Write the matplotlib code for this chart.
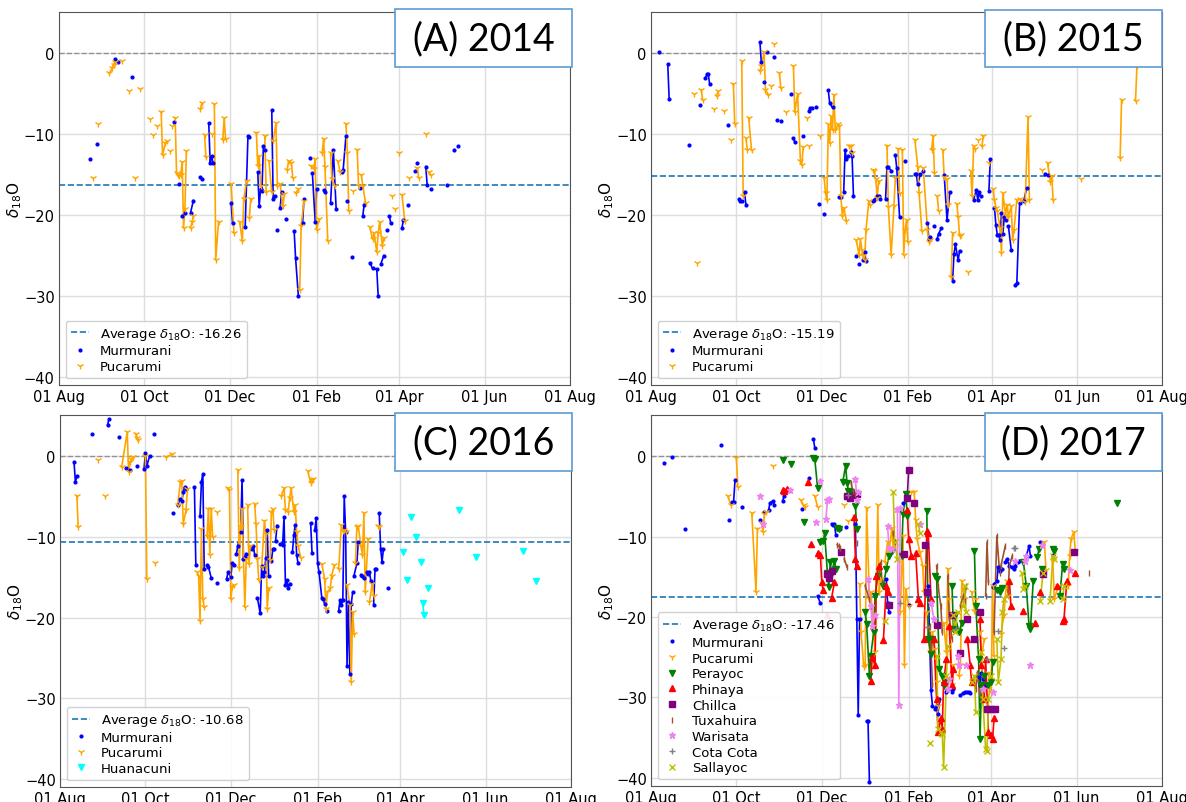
import matplotlib
matplotlib.use("Agg")
import matplotlib.pyplot as plt
import matplotlib.dates as mdates
from matplotlib.patches import Rectangle
from datetime import datetime, timedelta

# each series: list of segments, each segment = [(day since 01 Aug, d18O), ...]
A_MUR = [[(22, -13.1)], [(27, -11.2)], [(40, -0.7), (42, -1.1)], [(52, -2.9)], [(82, -8.5)], [(86, -16.1)],
         [(88, -20.1), (90, -19.7)], [(94, -19.7), (96, -18.2)], [(101, -15.3), (102, -15.6)],
         [(107, -8.6), (108, -13.6), (109, -12.7), (110, -13.5)], [(123, -18.5), (124, -21.0)],
         [(133, -21.5), (135, -10.2), (136, -10.4)],
         [(142, -14.7), (143, -18.9), (144, -16.8), (145, -17.0), (146, -11.5), (147, -12.0)],
         [(152, -7.0), (153, -18.0), (154, -17.6)], [(156, -21.8)], [(158, -19.1), (159, -17.2)], [(162, -20.5)],
         [(168, -22.0), (169, -25.3), (171, -30.0)], [(174, -21.0), (175, -18.0)], [(179, -12.9)],
         [(181, -14.8), (183, -20.8), (184, -16.8)], [(189, -16.9), (190, -17.2)],
         [(194, -18.5), (196, -12.0), (198, -19.3)], [(202, -14.7), (203, -14.4), (205, -10.2)], [(206, -18.3)],
         [(209, -25.2)], [(215, -16.6)], [(217, -20.1), (218, -18.7)],
         [(222, -25.9), (224, -26.6), (227, -26.7), (228, -30.0)], [(230, -26.0), (232, -25.0)], [(234, -21.9)],
         [(236, -20.1), (237, -21.0)], [(245, -21.6), (246, -20.6)], [(249, -18.7)], [(254, -14.5)],
         [(256, -13.6)], [(262, -14.0), (263, -16.3)], [(266, -16.8)], [(277, -16.3)], [(282, -12.0)],
         [(285, -11.5)]]
A_PUC = [[(24, -15.4)], [(28, -8.8)], [(36, -2.5), (38, -1.8), (39, -1.4), (40, -1.1)], [(45, -1.0)], [(50, -4.7)],
         [(54, -15.4)], [(58, -4.4)], [(65, -8.1)], [(67, -10.1)], [(70, -9.0)],
         [(73, -7.2), (74, -12.6), (76, -11.1), (77, -10.9)], [(79, -12.1)], [(81, -9.0)],
         [(83, -8.0), (84, -14.8), (85, -15.1), (86, -15.2), (87, -15.0), (88, -13.4), (89, -21.6), (90, -19.2), (91, -12.1)],
         [(94, -21.6), (95, -20.9), (96, -20.1)], [(101, -6.9), (102, -6.2)], [(104, -10.1), (105, -12.8)],
         [(109, -10.0)], [(111, -6.3), (112, -25.5), (114, -20.8)], [(117, -10.7), (118, -8.0), (119, -10.6)],
         [(123, -16.2), (125, -22.2)], [(129, -20.8), (131, -23.2), (132, -18.0), (134, -15.8)],
         [(136, -20.3), (137, -18.0)], [(141, -9.8), (142, -13.9), (143, -12.7), (144, -16.4)],
         [(147, -10.2), (148, -17.2)], [(150, -13.3), (152, -17.2)], [(153, -10.8), (155, -8.6), (156, -16.4)],
         [(158, -16.2), (160, -18.9), (161, -17.4)], [(163, -14.4), (164, -13.3), (166, -13.5), (167, -15.4)],
         [(169, -17.3), (171, -16.8)], [(172, -29.2), (173, -21.3), (175, -18.3)],
         [(180, -13.9), (182, -14.3), (183, -13.1), (184, -21.8), (186, -20.5)],
         [(188, -12.3), (189, -10.6), (190, -14.1), (192, -23.2)], [(194, -12.3), (195, -15.6), (197, -16.4)],
         [(199, -13.3), (201, -14.7)], [(205, -8.7), (206, -12.3), (207, -19.5)], [(210, -17.0)],
         [(213, -11.9), (214, -16.4)], [(216, -15.0), (217, -16.4), (219, -18.5)],
         [(222, -21.5), (224, -23.0), (225, -22.2), (227, -24.6), (228, -22.2), (229, -20.9), (231, -23.8), (232, -22.8)],
         [(238, -17.6)], [(240, -19.2)], [(243, -12.3)], [(245, -17.5), (247, -20.7)], [(250, -15.4)],
         [(256, -14.2), (257, -15.4)], [(262, -10.0)], [(264, -14.7), (266, -15.1)]]

B_MUR = [[(6, 0.2)], [(12, -1.3), (13, -5.6)], [(27, -11.3)], [(35, -6.4)],
         [(39, -3.1), (40, -2.6), (41, -2.6), (42, -3.8)], [(55, -8.9)], [(63, -18.0), (64, -18.2), (65, -18.3)],
         [(67, -17.1), (68, -18.8)], [(78, 1.4), (79, -1.1)], [(81, -3.6)], [(83, 0.2)], [(88, -0.4)], [(90, -8.3)],
         [(93, -8.4)], [(100, -5.0)], [(102, -10.5), (103, -11.0)], [(109, -10.2)],
         [(113, -7.1), (114, -6.8), (115, -6.8)], [(118, -6.6)], [(120, -18.6)], [(124, -19.9)],
         [(127, -4.6), (128, -6.2), (130, -6.7)], [(135, -17.8)], [(136, -17.8)],
         [(138, -17.2), (139, -12.0), (140, -13.1), (141, -12.7)], [(143, -12.2), (144, -12.7), (145, -17.6)],
         [(147, -25.1)], [(149, -26.1)], [(152, -25.5), (153, -24.6), (154, -25.7)],
         [(159, -18.3), (160, -18.1), (162, -17.6), (163, -17.6), (164, -18.0)],
         [(168, -18.0), (169, -14.0), (170, -14.1), (172, -14.5)], [(175, -12.6), (176, -14.2), (178, -20.2)],
         [(182, -13.3)], [(189, -14.9), (190, -14.9), (191, -16.2), (193, -14.9)], [(195, -14.5)],
         [(198, -21.0), (199, -22.9), (200, -22.7)], [(203, -21.3)], [(205, -22.9), (206, -22.3), (208, -21.6)],
         [(210, -15.1), (212, -20.6), (214, -17.2)],
         [(216, -28.1), (217, -24.8), (218, -23.6), (220, -25.6), (221, -24.4)],
         [(231, -18.1), (233, -16.9), (234, -18.1), (235, -17.1), (236, -17.7)], [(242, -17.0), (243, -13.1)],
         [(246, -19.1), (247, -21.2), (248, -22.4), (249, -22.4), (250, -23.1), (251, -19.8), (252, -22.3), (253, -20.2), (254, -20.6)],
         [(256, -21.4), (258, -24.3)], [(261, -28.6), (262, -28.4), (264, -18.5)], [(267, -18.2), (269, -16.7)],
         [(282, -14.9), (284, -15.1)]]
B_PUC = [[(31, -5.0)], [(33, -25.9)], [(36, -4.5), (37, -5.8)], [(45, -6.9)], [(47, -5.3), (48, -4.7)], [(52, -7.1)],
         [(57, -10.7)], [(59, -3.8), (60, -8.8)], [(65, -1.0), (66, -17.7)], [(68, -10.5), (69, -11.9)],
         [(70, -8.0), (72, -12.0)], [(78, -2.2), (79, -1.6), (81, 0.1), (82, -4.5), (84, -5.1)], [(86, -4.1)],
         [(88, 1.2)], [(92, -2.5), (93, -4.3)], [(97, -7.2)],
         [(102, -1.6), (103, -7.3), (105, -5.0), (107, -13.3), (108, -13.8), (109, -11.6)], [(112, -8.0)],
         [(113, -11.4)], [(121, -10.2)],
         [(124, -15.4), (125, -17.3), (126, -18.1), (127, -8.8), (128, -11.1), (129, -7.8), (130, -9.5), (131, -5.1),
          (132, -9.5), (134, -8.8), (135, -9.0), (136, -17.7), (137, -20.1), (138, -19.1), (140, -20.7)],
         [(142, -11.5), (143, -11.4), (144, -12.3)],
         [(147, -23.1), (149, -24.9), (150, -23.0), (151, -24.3), (152, -25.0), (153, -25.5), (154, -21.8), (156, -18.3), (157, -18.7)],
         [(159, -14.4), (160, -14.6), (161, -15.6), (162, -17.9), (163, -15.8)],
         [(169, -11.4), (170, -19.0), (172, -24.9), (174, -18.9), (175, -15.4)], [(177, -11.8), (178, -17.3)],
         [(180, -11.9), (181, -24.9), (182, -21.8), (183, -20.6), (184, -23.3)],
         [(189, -10.7), (191, -14.0), (192, -17.3), (194, -22.0)],
         [(195, -14.2), (198, -21.8), (199, -23.3), (200, -23.1)], [(201, -11.9), (202, -10.2), (203, -14.8)],
         [(205, -17.7), (206, -19.5)], [(209, -12.0), (210, -15.3), (212, -15.6), (213, -18.7)],
         [(215, -27.6), (216, -22.2)], [(219, -18.6), (220, -20.2), (221, -22.6), (222, -22.4)], [(227, -27.0)],
         [(229, -14.6), (230, -17.7), (231, -11.5), (232, -11.8)], [(234, -10.7)], [(237, -11.5), (238, -10.2)],
         [(242, -13.6)],
         [(245, -16.8), (246, -18.1), (247, -19.1), (248, -19.5), (250, -21.6), (251, -24.7), (252, -17.3), (254, -20.0),
          (255, -18.7), (256, -20.2), (258, -18.9), (259, -23.1), (260, -21.8), (262, -18.1)],
         [(264, -18.0), (268, -18.4), (270, -7.9), (271, -18.1)], [(280, -14.4)],
         [(284, -13.6), (286, -15.9), (287, -15.2), (288, -18.1)], [(308, -15.6)], [(336, -12.9), (337, -5.8)],
         [(347, -5.9), (348, -1.6)]]

C_MUR = [[(10, -0.7), (11, -3.2), (12, -2.5)], [(23, 2.7)], [(34, 3.9), (35, 4.6)], [(42, 2.4)],
         [(47, -1.5), (50, -1.7)], [(55, -1.2)], [(60, -1.6), (61, 0.4), (62, -1.2), (64, 0.0)], [(67, 2.8)],
         [(81, -7.1)], [(84, -6.0), (86, -5.3), (87, -5.6), (88, -4.5), (89, -3.8), (90, -4.1)],
         [(96, -3.8), (97, -13.5)], [(100, -7.4), (101, -3.2), (102, -2.2), (103, -14.0)],
         [(105, -13.5), (106, -13.7), (108, -15.1)], [(112, -15.7)],
         [(119, -15.2), (120, -14.4), (122, -15.0), (123, -13.2), (124, -13.5)],
         [(126, -12.1), (127, -11.1), (129, -9.4), (130, -3.0), (131, -12.7), (132, -12.5), (133, -12.1)],
         [(137, -11.5), (138, -11.1), (139, -12.2)],
         [(141, -17.6), (143, -19.5), (144, -13.6), (145, -14.9), (146, -14.4), (147, -12.6), (148, -9.2), (149, -14.9)],
         [(151, -13.0), (152, -11.5), (153, -11.5)], [(154, -10.5), (155, -8.6)],
         [(157, -10.9), (159, -11.0), (160, -7.6), (161, -16.0), (162, -15.4), (163, -16.3), (164, -15.8)],
         [(166, -11.9), (167, -9.8), (168, -8.5), (169, -12.2), (170, -13.3)], [(179, -8.3), (180, -12.0)],
         [(182, -9.1), (183, -7.7), (184, -13.3), (185, -14.4), (187, -17.6), (188, -17.7), (189, -18.3)],
         [(191, -19.2)],
         [(199, -19.2), (200, -17.8), (201, -18.5), (202, -17.8), (203, -5.0), (204, -9.4), (205, -26.0), (206, -18.1),
          (207, -27.0), (208, -18.3), (209, -16.9)],
         [(210, -14.8), (212, -13.3), (213, -10.7)],
         [(215, -14.7), (216, -14.8), (217, -15.1), (219, -14.3), (220, -14.6), (221, -14.3), (222, -15.5)],
         [(224, -18.4), (225, -14.0), (226, -14.0)], [(228, -7.1), (229, -11.5), (230, -13.1), (231, -11.5)],
         [(234, -16.4)]]
C_PUC = [[(12, -4.9), (13, -8.8)], [(27, -0.5)], [(32, -5.0)],
         [(44, -1.4), (48, 3.0), (49, -2.0), (50, -0.7), (51, -0.4), (52, -0.1)], [(54, 2.8), (55, 2.3), (56, 2.0)],
         [(61, 0.0), (62, -15.2)], [(68, -13.3)], [(76, -0.1), (80, 0.2)],
         [(84, -6.1), (86, -3.2), (87, -3.1), (88, -8.4), (90, -6.7), (91, -4.1)],
         [(98, -14.4), (99, -14.8), (100, -20.4), (101, -9.0), (102, -17.7), (103, -18.7)],
         [(105, -9.9), (106, -6.5), (107, -12.2), (108, -6.5), (109, -10.0)], [(112, -6.9)],
         [(120, -4.0), (121, -4.2), (122, -17.7), (123, -16.2), (124, -16.0)],
         [(127, -1.7), (128, -13.9), (129, -8.8), (130, -6.5), (132, -18.7), (133, -12.7)],
         [(134, -6.1), (135, -13.4), (136, -11.1)], [(139, -5.9), (140, -8.4), (141, -12.7), (142, -15.4)],
         [(144, -13.8), (146, -8.0), (147, -9.6), (148, -18.9), (149, -16.4)],
         [(150, -12.9), (151, -6.9), (152, -6.6), (153, -9.2)],
         [(158, -4.9), (160, -4.0), (161, -6.7), (163, -6.9), (164, -5.2), (165, -4.0), (167, -6.9), (168, -6.1),
          (169, -9.4), (170, -11.1), (172, -12.6)],
         [(177, -1.9), (179, -3.3), (180, -2.9), (181, -2.8)],
         [(187, -13.4), (189, -15.2), (190, -18.9), (191, -16.8), (193, -16.4), (194, -14.8), (196, -13.5)],
         [(199, -14.0), (201, -8.5), (202, -9.3), (203, -9.2), (204, -9.4)],
         [(205, -16.0), (207, -18.5), (208, -28.0), (209, -19.3), (210, -22.0)],
         [(211, -13.2), (212, -8.8), (213, -8.7), (215, -11.2), (216, -12.3), (217, -7.1), (218, -16.9), (220, -10.3)],
         [(221, -18.1), (223, -15.8), (224, -17.3)], [(227, -8.6), (228, -8.8)]]
C_HUA = [[(245, -11.9)], [(248, -15.4)], [(251, -7.6)], [(254, -10.0)], [(258, -13.1)],
         [(259, -18.2), (260, -19.7)], [(263, -16.3)], [(285, -6.7)], [(297, -12.5)], [(331, -11.8)], [(340, -15.5)]]

D_MUR = [[(9, -0.8)], [(15, -0.1)], [(24, -9.0)], [(50, 1.4)], [(56, -7.9)], [(58, -5.7), (59, -5.7), (60, -3.0)],
         [(65, -6.3)], [(78, -7.9)], [(81, -6.9)], [(84, -6.7), (85, -5.8), (87, -5.6), (88, -6.1)],
         [(94, -5.6), (95, -5.0)], [(108, -6.6)], [(113, -2.7)], [(116, 2.1), (117, 1.0)],
         [(119, -17.4), (121, -18.3)], [(129, -8.4), (130, -8.6), (131, -8.4), (132, -9.8)], [(135, -9.0)],
         [(139, -8.8)], [(146, -8.5), (147, -20.2), (148, -32.2), (149, -20.2)],
         [(154, -32.9), (155, -32.9), (156, -40.5)], [(168, -15.3), (169, -18.2), (170, -19.4)], [(180, -5.8)],
         [(184, -18.5)],
         [(198, -16.2), (200, -29.1), (201, -31.0), (203, -31.4), (204, -31.0), (205, -32.0), (206, -30.2)],
         [(209, -28.5), (211, -29.3), (213, -28.9), (215, -29.3), (216, -28.9)],
         [(221, -29.7), (223, -29.5), (224, -29.3), (226, -29.3), (227, -29.3), (228, -29.5)],
         [(234, -27.5), (235, -28.5), (236, -26.9), (237, -27.7), (239, -28.5)],
         [(244, -16.3), (245, -15.9), (247, -15.5), (248, -13.8), (249, -14.3), (251, -14.0)],
         [(253, -13.2), (254, -12.8), (256, -13.6), (258, -13.8)],
         [(259, -14.0), (260, -13.6), (262, -13.2), (263, -13.0)], [(268, -12.4), (270, -11.2), (271, -12.4)],
         [(278, -10.7)], [(287, -12.3)]]
D_PUC = [[(55, -5.0), (57, -6.1)], [(61, -0.2), (62, -3.8)], [(72, -7.1), (75, -16.9), (76, -9.0)],
         [(79, -8.3), (80, -9.4), (81, -7.2), (82, -7.0)], [(87, -1.2)], [(107, -5.5), (109, -6.1), (110, -6.3)],
         [(117, -5.0), (119, -6.3)], [(138, -6.1)], [(141, -8.1)],
         [(149, -15.9), (150, -21.9), (152, -26.2), (153, -26.0), (154, -6.4), (156, -17.8), (157, -16.9),
          (159, -21.9), (160, -24.4), (162, -6.1), (163, -16.9), (164, -15.3)],
         [(167, -13.2), (169, -10.7), (170, -12.0), (172, -8.9), (173, -11.4), (174, -10.5)],
         [(178, -19.4), (180, -9.9), (181, -26.0), (182, -16.5), (184, -18.6)],
         [(186, -4.5), (188, -4.5), (189, -7.9), (190, -10.3), (192, -11.9), (194, -13.6), (195, -16.9)],
         [(197, -19.4), (199, -24.4), (201, -21.9), (203, -24.0), (204, -28.1), (205, -31.0)],
         [(209, -20.7), (211, -24.4), (212, -14.0), (213, -17.8), (215, -28.5), (216, -26.0)],
         [(220, -27.3), (221, -26.0), (222, -15.5), (224, -17.8)], [(229, -16.9), (231, -19.2), (232, -17.8)],
         [(235, -21.9), (236, -25.2), (238, -22.7)], [(241, -26.9), (243, -29.3), (244, -16.1), (245, -24.8)],
         [(250, -22.1), (252, -19.8), (254, -15.5), (255, -17.4)], [(281, -10.7), (282, -14.1)],
         [(287, -13.0), (288, -17.8), (291, -16.1)],
         [(298, -16.1), (299, -12.4), (300, -10.3), (302, -9.4), (303, -11.8)]]
D_PER = [[(94, -0.5)], [(100, -1.0)], [(109, -8.2)], [(116, -0.2), (117, -0.4), (119, -4.0)],
         [(121, -10.7), (123, -10.6), (124, -9.6), (126, -14.5), (127, -16.3), (128, -13.2), (129, -14.5),
          (131, -13.0), (132, -14.0)],
         [(133, -8.9), (134, -9.1)], [(137, -3.2), (139, -1.2), (140, -3.3), (141, -4.3), (143, -4.5)],
         [(146, -6.2), (147, -9.1)],
         [(153, -19.4), (154, -20.9), (156, -27.3), (157, -24.8), (159, -21.9), (160, -17.4), (162, -14.9)],
         [(166, -16.1), (168, -14.0), (170, -12.4), (172, -11.8)], [(179, -12.4), (180, -7.2), (182, -4.7), (183, -7.4)],
         [(197, -6.8), (198, -22.7), (200, -24.6), (201, -22.7)],
         [(203, -14.9), (204, -15.3), (206, -26.4), (208, -27.3), (209, -28.5), (211, -28.1)],
         [(215, -16.1), (216, -21.5), (217, -19.8), (220, -21.9), (222, -20.7)],
         [(231, -11.8), (232, -18.6), (234, -25.2), (235, -35.1), (236, -28.5), (238, -27.3)],
         [(241, -28.5), (243, -28.1), (244, -25.6)], [(247, -16.7), (249, -16.9), (251, -16.4)],
         [(266, -13.2), (268, -16.1), (270, -21.1), (271, -21.5), (273, -15.5)], [(276, -12.6), (277, -11.6)],
         [(279, -14.0)], [(287, -11.6), (288, -11.8)], [(292, -17.4), (294, -13.4), (295, -14.0)], [(333, -5.8)]]
D_PHI = [[(94, -4.2), (95, -4.3), (97, -4.1)], [(112, -3.2)], [(114, -10.9)],
         [(119, -12.1), (121, -12.3), (122, -15.7), (123, -16.7)], [(126, -19.8)], [(129, -17.6), (131, -15.7)],
         [(145, -7.6), (146, -12.8), (147, -13.6)],
         [(157, -27.9), (158, -25.0), (160, -26.0), (161, -14.9), (163, -13.6)],
         [(166, -22.9), (168, -16.1), (169, -16.9)], [(183, -6.7), (184, -10.3), (186, -12.4)],
         [(189, -12.0), (191, -17.8), (192, -18.2)], [(195, -22.7), (197, -9.3), (198, -9.5), (200, -17.8)],
         [(202, -22.7), (204, -30.2), (205, -34.3), (207, -32.6), (208, -33.9), (209, -28.1), (211, -25.2)],
         [(213, -21.1), (215, -28.5), (216, -26.4)], [(226, -22.7), (228, -26.0), (229, -28.1)],
         [(235, -20.3), (236, -26.0), (238, -30.2), (239, -25.2), (241, -34.3)],
         [(243, -34.7), (244, -35.1), (245, -32.6)], [(256, -15.5), (257, -18.6)], [(266, -19.2)], [(274, -20.7)],
         [(278, -16.9)], [(290, -16.1)], [(294, -20.5), (295, -20.2), (297, -15.5)], [(303, -14.5)]]
D_CHI = [[(126, -14.7), (127, -15.1), (129, -14.3)], [(136, -11.9)], [(140, -5.0), (141, -5.0), (142, -5.2), (144, -5.0)],
         [(147, -4.7)], [(170, -18.5)], [(181, -12.2)], [(183, -5.2), (184, -1.7)], [(188, -5.8)], [(196, -11.0)],
         [(197, -16.9)], [(204, -21.0)], [(215, -19.8)], [(221, -24.5)], [(226, -20.2)], [(231, -22.7)],
         [(235, -19.4)], [(240, -31.4), (243, -31.4), (246, -31.4)], [(280, -14.7)], [(302, -11.9)]]
D_TUX = [[(133, -11.0), (134, -11.2), (135, -11.4)], [(138, -12.8), (140, -13.8)], [(143, -3.3), (144, -4.3), (146, -4.7)],
         [(147, -10.8)], [(153, -16.1), (156, -17.8), (157, -18.6)], [(163, -14.5), (164, -13.2), (165, -15.7)],
         [(173, -9.5), (174, -10.7)], [(199, -21.1), (200, -24.0), (201, -28.5)],
         [(204, -13.6), (205, -16.1), (207, -18.6), (208, -21.9)], [(212, -14.9), (213, -20.2), (215, -22.7)],
         [(221, -18.6), (223, -17.4), (224, -18.0), (225, -16.1)], [(232, -28.9), (233, -26.9), (235, -29.7)],
         [(239, -17.4), (240, -10.7), (241, -15.7)], [(245, -21.9), (247, -9.9), (249, -14.5), (250, -13.6), (253, -11.2)],
         [(255, -16.9), (256, -13.6), (258, -12.4)], [(313, -14.5)]]
D_WAR = [[(78, -5.0)], [(80, -8.5)], [(99, -4.2)], [(118, -8.2)], [(121, -3.1)], [(125, -7.8), (126, -5.4), (127, -5.3)],
         [(146, -2.8), (147, -5.4), (148, -4.5)], [(155, -15.3), (157, -18.6), (158, -21.1), (160, -19.8)],
         [(169, -8.7), (170, -11.4), (172, -11.6)], [(176, -6.6), (177, -30.9), (178, -6.4)], [(192, -8.5)],
         [(200, -18.2), (202, -20.2)], [(212, -28.9), (213, -27.7)], [(219, -24.8), (220, -26.0)], [(225, -26.0)],
         [(237, -28.9)], [(244, -29.3)], [(260, -13.0)], [(267, -13.1), (268, -12.4)], [(271, -26.0)], [(279, -11.1)],
         [(299, -14.2)]]
D_COT = [[(141, -4.8)], [(178, -18.2)], [(197, -21.3)], [(218, -21.5)], [(240, -25.2)], [(248, -21.7)], [(252, -23.8)],
         [(259, -11.4), (260, -11.4)]]
D_SAL = [[(167, -20.5)], [(173, -4.5), (174, -10.7), (176, -12.8)], [(191, -8.5), (192, -9.5)], [(199, -35.7)],
         [(204, -24.8), (205, -33.9), (207, -34.3), (208, -34.5), (209, -38.6), (211, -27.3), (212, -23.6)],
         [(216, -19.8), (217, -21.9), (219, -19.4)], [(223, -18.6), (224, -16.1), (225, -19.4)],
         [(229, -28.1), (231, -27.3), (232, -31.8)],
         [(236, -24.4), (237, -30.2), (239, -36.4), (240, -36.6), (241, -30.2), (243, -27.3)],
         [(247, -22.7), (248, -28.1), (250, -25.2), (251, -19.4), (252, -17.8)],
         [(265, -14.5), (266, -16.5), (267, -16.1)], [(278, -18.0), (280, -14.5)],
         [(285, -18.0), (287, -12.4), (288, -12.8)], [(294, -17.8), (295, -16.1)]]

YEARS = [2014, 2015, 2016, 2017]
TITLES = ["(A) 2014", "(B) 2015", "(C) 2016", "(D) 2017"]
AVERAGES = [-16.26, -15.19, -10.68, -17.46]

STYLE = {
    "Murmurani": ("blue", ".", 4),
    "Pucarumi": ("orange", "1", 5),
    "Huanacuni": ("cyan", "v", 5),
    "Perayoc": ("green", "v", 5),
    "Phinaya": ("red", "^", 5),
    "Chillca": ("purple", "s", 5),
    "Tuxahuira": ("sienna", "|", 5),
    "Warisata": ("violet", "*", 5),
    "Cota Cota": ("gray", "+", 5),
    "Sallayoc": ("y", "x", 5),
}

PANELS = [
    [("Murmurani", A_MUR), ("Pucarumi", A_PUC)],
    [("Murmurani", B_MUR), ("Pucarumi", B_PUC)],
    [("Murmurani", C_MUR), ("Pucarumi", C_PUC), ("Huanacuni", C_HUA)],
    [("Murmurani", D_MUR), ("Pucarumi", D_PUC), ("Perayoc", D_PER), ("Phinaya", D_PHI), ("Chillca", D_CHI),
     ("Tuxahuira", D_TUX), ("Warisata", D_WAR), ("Cota Cota", D_COT), ("Sallayoc", D_SAL)],
]

# axes boxes in figure fraction, and title boxes in pixels
AX_POS = [[0.0497, 0.5193, 0.4309, 0.4645], [0.5489, 0.5193, 0.4309, 0.4645],
          [0.0506, 0.0187, 0.4309, 0.4633], [0.5489, 0.0199, 0.4309, 0.4620]]
W, H = 1186, 803
BOX_PX = [(395, 10, 177, 58), (985, 11, 177, 57), (395, 414, 177, 58), (985, 414, 177, 58)]

fig = plt.figure(figsize=(W / 100, H / 100), dpi=100)

for i in range(4):
    ax = fig.add_axes(AX_POS[i])
    start = datetime(YEARS[i], 8, 1)
    ax.axhline(0, color="gray", ls="--", lw=1, alpha=0.8, zorder=1)
    ax.axhline(AVERAGES[i], color="#1f77b4", ls="--", lw=1.2,
               label=r"Average $\delta_{18}$O: %.2f" % AVERAGES[i], zorder=1)
    for name, segs in PANELS[i]:
        color, marker, ms = STYLE[name]
        xs, ys = [], []
        for seg in segs:
            d = [start + timedelta(days=p[0]) for p in seg]
            v = [p[1] for p in seg]
            if len(seg) > 1:
                ax.plot(d, v, color=color, lw=1.2, zorder=2)
            xs += d
            ys += v
        ax.plot(xs, ys, ls="none", marker=marker, color=color, ms=ms, label=name, zorder=3)

    ax.set_xlim(start, datetime(YEARS[i] + 1, 8, 1))
    ax.set_ylim(-41, 5.1)
    ax.xaxis.set_major_locator(mdates.MonthLocator(bymonth=[2, 4, 6, 8, 10, 12]))
    ax.xaxis.set_major_formatter(mdates.DateFormatter("%d %b"))
    ax.set_yticks([0, -10, -20, -30, -40])
    ax.tick_params(labelsize=10.5, length=0, pad=3)
    ax.grid(True, color="#dddddd", lw=1)
    ax.set_axisbelow(True)
    ax.set_ylabel(r"$\delta_{18}$O", fontsize=11)
    ax.yaxis.set_label_coords(-0.068, 0.5)
    for s in ax.spines.values():
        s.set_color("#555555")
        s.set_linewidth(0.8)
    ax.legend(loc="lower left", fontsize=9.5, labelspacing=0.2, handlelength=1.4, handletextpad=0.8,
              borderaxespad=0.5, framealpha=0.9)

    bx, by, bw, bh = BOX_PX[i]
    fig.patches.append(Rectangle((bx / W, 1 - (by + bh) / H), bw / W, bh / H, transform=fig.transFigure,
                                 facecolor="white", edgecolor="#5b9bd5", lw=1.2, zorder=5))
    fig.text((bx + bw / 2) / W, 1 - (by + bh / 2) / H, TITLES[i], ha="center", va="center",
             fontsize=27, family="Lato", zorder=6)

fig.savefig("out.png", dpi=100)
